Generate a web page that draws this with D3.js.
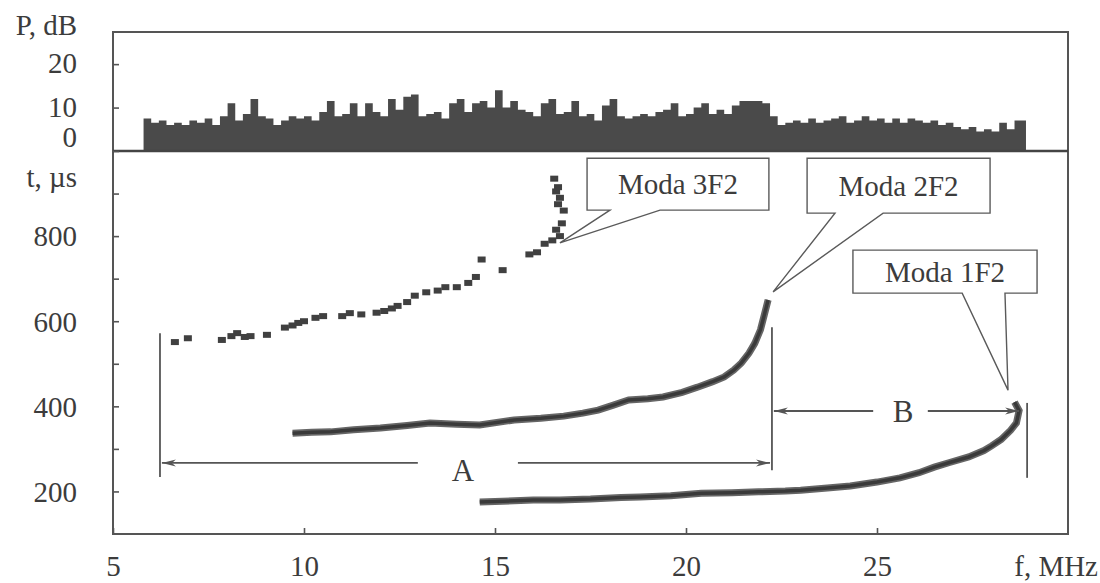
<!DOCTYPE html>
<html lang="en">
<head>
  <meta charset="UTF-8">
  <title>Spectrum and modes</title>
  <script src="https://d3js.org/d3.v7.min.js"></script>
  <style>
    body { margin: 0; background: #fff; }
    svg { display: block; }
    .tick line { stroke: #555; stroke-width: 1.6; }
    .frame { fill: none; stroke: #555; stroke-width: 2; }
    .callout { fill: #fff; stroke: #5a5a5a; stroke-width: 1.4; }
    .guide { stroke: #555; stroke-width: 1.8; fill: none; }
  </style>
</head>
<body>
<svg id="chart" width="1100" height="583"></svg>
<script>
  // power spectrum, 0.2 MHz bins starting at 5.8 MHz
  const specStart = 5.8;
  const specStep = 0.2;
  const specP = [
    7.5, 6.5, 7, 6, 6.5,
    6, 7, 6.5, 7.5, 6,
    8, 11, 7, 8.5, 12,
    8, 7.5, 6, 7, 8,
    7.5, 8, 7, 9, 11.5,
    8, 8.5, 11, 8, 11,
    9, 8, 12, 9.5, 12.5,
    13, 8, 8.5, 9, 7.5,
    11, 12, 9, 11, 11.5,
    10, 14, 10, 11.5, 9.5,
    9, 8, 11, 12, 8.5,
    9, 11.5, 8, 8.5, 7,
    10.5, 12, 8, 7.5, 8,
    8.5, 8, 9, 9.5, 11,
    8, 8.5, 10, 11, 8.5,
    9.5, 8.5, 10.5, 11.5, 11.5,
    11.5, 11, 8, 6, 6.5,
    7, 6.5, 7.5, 6.5, 7,
    7.5, 8, 6.5, 7, 8,
    7, 7.5, 6.5, 7.5, 6.5,
    7.5, 7, 6.5, 7, 6,
    6.5, 5.5, 5, 5.5, 4.5,
    5, 4.5, 6.5, 5, 7,
    7
  ];

  // mode 3F2 (scattered)
  const m3f = [6.62, 6.96, 7.85, 8.1, 8.25, 8.45, 8.6, 9.03, 9.5, 9.7, 9.85, 10.0, 10.3, 10.5, 11.0, 11.2, 11.5, 11.9, 12.1, 12.3, 12.45, 12.7, 12.9, 13.2, 13.5, 13.7, 14.0, 14.3, 14.5, 14.65, 15.2, 15.9, 16.1, 16.3, 16.5, 16.7, 16.6, 16.75, 16.8, 16.65, 16.7, 16.6, 16.65, 16.55];
  const m3t = [551, 560, 556, 565, 572, 563, 565, 568, 585, 590, 596, 600, 608, 612, 612, 619, 616, 620, 624, 630, 636, 645, 660, 668, 672, 680, 680, 690, 704, 745, 720, 757, 762, 782, 790, 800, 815, 830, 860, 875, 890, 905, 915, 935];

  // mode 2F2
  const m2f = [9.7, 10.2, 10.7, 11.3, 12.0, 12.7, 13.3, 14.0, 14.6, 15.5, 16.2, 16.8, 17.3, 17.7, 18.1, 18.5, 19.0, 19.4, 19.9, 20.3, 20.7, 21.0, 21.25, 21.45, 21.65, 21.8, 21.95, 22.05, 22.15];
  const m2t = [337, 339, 340, 345, 349, 355, 361, 358, 356, 368, 372, 377, 384, 391, 403, 415, 418, 422, 433, 445, 458, 469, 485, 502, 525, 548, 580, 615, 650];

  // mode 1F2
  const m1f = [14.6, 15.2, 16.0, 16.7, 17.5, 18.3, 18.8, 19.6, 20.4, 21.2, 21.9, 22.6, 23.0, 23.7, 24.3, 25.0, 25.6, 26.1, 26.5, 26.9, 27.4, 27.8, 28.0, 28.25, 28.5, 28.65, 28.72, 28.6];
  const m1t = [175, 177, 180, 180, 182, 186, 187, 190, 196, 197, 199, 201, 203, 208, 213, 222, 232, 244, 257, 268, 281, 296, 307, 322, 344, 361, 390, 410];

  const fTicks = [5, 10, 15, 20, 25];
  const pTicks = [0, 10, 20];
  const tTicks = [200, 300, 400, 500, 600, 700, 800, 900];
  const tLabels = [200, 400, 600, 800];

  // callouts: box (f0, f1, t0, t1), pointer base (fa, fb), apex (fx, tx)
  const calloutText = ["Moda 3F2", "Moda 2F2", "Moda 1F2"];
  const calloutBox = [[17.41, 22.17, 983, 861], [23.17, 27.96, 983, 854], [24.37, 29.19, 767, 666]];
  const calloutBase = [[18.01, 19.32], [23.9, 25.16], [27.23, 28.35]];
  const calloutApex = [[16.7, 784], [22.28, 669], [28.43, 438]];

  const serif = "'Liberation Serif', 'Times New Roman', Times, serif";
  const svg = d3.select("#chart");

  const x = d3.scaleLinear().domain([5, 30]).range([113, 1068]);
  const yP = d3.scaleLinear().domain([0, 27.4]).range([151, 32]);
  const yT = d3.scaleLinear().domain([100, 1000]).range([534, 151]);

  // arrow marker
  svg.append("defs").append("marker")
    .attr("id", "arr")
    .attr("viewBox", "0 -4 14 8")
    .attr("refX", 14)
    .attr("refY", 0)
    .attr("markerUnits", "userSpaceOnUse")
    .attr("markerWidth", 14)
    .attr("markerHeight", 8)
    .attr("orient", "auto")
    .append("path")
    .attr("d", "M0,-3.5L14,0L0,3.5L4,0Z")
    .attr("fill", "#555");

  // spectrum
  const spec = specP.map((p, i) => ({ f: specStart + i * specStep, p }));
  spec.push({ f: specStart + specP.length * specStep - 0.1, p: specP[specP.length - 1] });

  svg.append("path")
    .datum(spec)
    .attr("fill", "#4a4a4a")
    .attr("d", d3.area()
      .curve(d3.curveStepAfter)
      .x(d => x(d.f))
      .y0(yP(0))
      .y1(d => yP(d.p)));

  // frame + panel divider
  svg.append("rect").attr("class", "frame")
    .attr("x", x(5)).attr("y", yP(27.4))
    .attr("width", x(30) - x(5)).attr("height", yT(100) - yP(27.4));
  svg.append("line")
    .attr("x1", x(5)).attr("x2", x(30))
    .attr("y1", yP(0)).attr("y2", yP(0))
    .attr("stroke", "#444").attr("stroke-width", 2.6);

  // axes
  const axP = svg.append("g").attr("transform", `translate(${x(5)},0)`)
    .call(d3.axisLeft(yP).tickValues(pTicks).tickSizeInner(-6).tickSizeOuter(0).tickPadding(36));
  axP.select(".domain").remove();
  axP.selectAll(".tick text").attr("dy", d => d === 0 ? "-0.15em" : "0.3em");

  const axT = svg.append("g").attr("transform", `translate(${x(5)},0)`)
    .call(d3.axisLeft(yT).tickValues(tTicks).tickSizeInner(-6).tickSizeOuter(0).tickPadding(36)
      .tickFormat(d => tLabels.includes(d) ? d : ""));
  axT.select(".domain").remove();
  axT.selectAll(".tick text").attr("dy", "0.34em");

  const axF = svg.append("g").attr("transform", `translate(0,${yT(100)})`)
    .call(d3.axisBottom(x).tickValues(fTicks).tickSizeInner(-6).tickSizeOuter(0).tickPadding(22));
  axF.select(".domain").remove();
  axF.selectAll(".tick text").attr("dy", "0.68em");

  svg.append("text").attr("x", 77).attr("y", 35).attr("text-anchor", "end").text("P, dB");
  svg.append("text").attr("x", 77).attr("y", 187).attr("text-anchor", "end").text("t, \u00b5s");
  svg.append("text").attr("x", 1098).attr("y", yT(100) + 42).attr("text-anchor", "end").text("f, MHz");

  // modes
  const line = d3.line().x(d => x(d[0])).y(d => yT(d[1]));
  const m2 = m2f.map((f, i) => [f, m2t[i]]);
  const m1 = m1f.map((f, i) => [f, m1t[i]]);

  [m2, m1].forEach(pts => {
    svg.append("path").datum(pts)
      .attr("fill", "none").attr("stroke", "#666").attr("stroke-width", 7)
      .attr("d", line);
    svg.append("path").datum(pts)
      .attr("fill", "none").attr("stroke", "#3a3a3a").attr("stroke-width", 3.5)
      .attr("d", line);
  });

  svg.append("g").selectAll("rect")
    .data(m3f.map((f, i) => [f, m3t[i]]))
    .join("rect")
    .attr("x", d => x(d[0]) - 4)
    .attr("y", d => yT(d[1]) - 3)
    .attr("width", 8)
    .attr("height", 6)
    .attr("fill", "#404040");

  // A and B range markers
  const guide = (f1, t1, f2, t2, arrow) => svg.append("line").attr("class", "guide")
    .attr("x1", x(f1)).attr("y1", yT(t1)).attr("x2", x(f2)).attr("y2", yT(t2))
    .attr("marker-end", arrow ? "url(#arr)" : null);

  guide(6.23, 572, 6.23, 234, false);
  guide(12.98, 267, 6.28, 267, true);
  guide(15.6, 267, 22.2, 267, true);
  guide(22.25, 586, 22.25, 250, false);
  guide(24.9, 389, 22.3, 389, true);
  guide(26.33, 389, 28.72, 389, true);
  guide(28.93, 408, 28.93, 232, false);

  svg.append("text").attr("x", x(14.16)).attr("y", yT(267) + 18).attr("text-anchor", "middle")
    .style("font-size", "31px").text("A");
  svg.append("text").attr("x", x(25.68)).attr("y", yT(389) + 11).attr("text-anchor", "middle")
    .style("font-size", "31px").text("B");

  // callouts
  calloutText.forEach((txt, i) => {
    const [f0, f1, t0, t1] = calloutBox[i];
    const [fa, fb] = calloutBase[i];
    const [fx, tx] = calloutApex[i];
    const p = d3.path();
    p.moveTo(x(f0), yT(t1));
    p.lineTo(x(f0), yT(t0));
    p.lineTo(x(f1), yT(t0));
    p.lineTo(x(f1), yT(t1));
    p.lineTo(x(fb), yT(t1));
    p.lineTo(x(fx), yT(tx));
    p.lineTo(x(fa), yT(t1));
    p.closePath();
    svg.append("path").attr("class", "callout").attr("d", p.toString());
    svg.append("text")
      .attr("x", (x(f0) + x(f1)) / 2)
      .attr("y", (yT(t0) + yT(t1)) / 2 + 10)
      .attr("text-anchor", "middle")
      .text(txt);
  });

  // shared text style
  svg.selectAll("text")
    .style("font-family", serif)
    .style("fill", "#3c3c3c")
    .each(function () {
      if (!this.style.fontSize) this.style.fontSize = "29px";
    });
</script>
</body>
</html>
